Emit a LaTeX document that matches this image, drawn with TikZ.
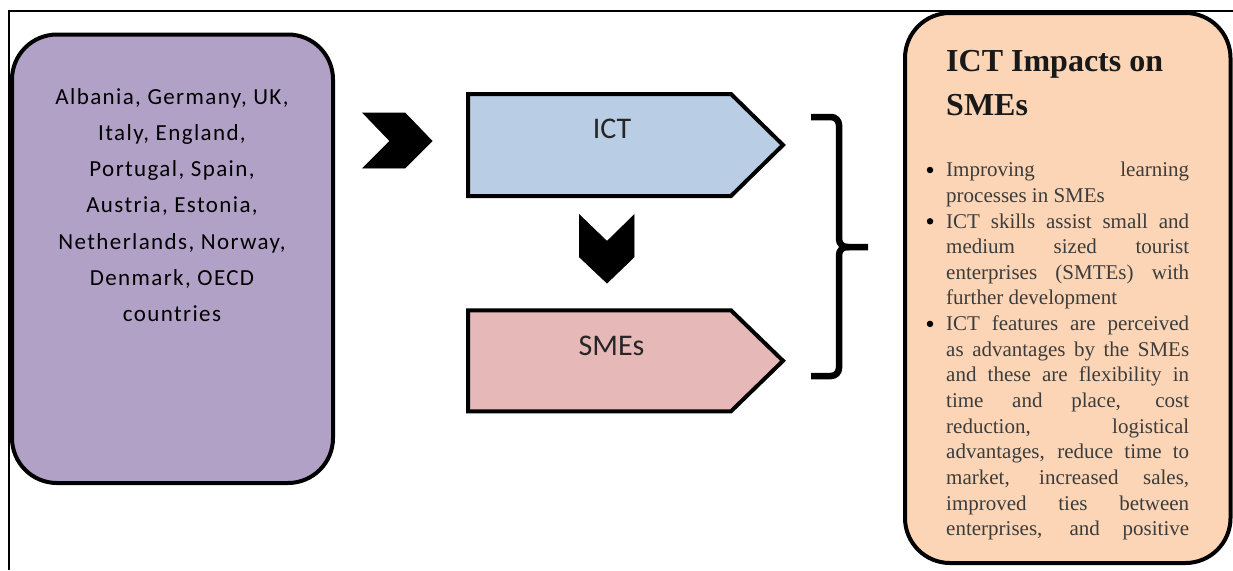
\documentclass[tikz,border=0pt]{standalone}
\usepackage{fontspec}
\setmainfont{Liberation Serif}
\newfontfamily\calib{Carlito}
\newfontfamily\calibls[LetterSpace=6]{Carlito}
\definecolor{purplebox}{HTML}{B2A1C7}
\definecolor{peachbox}{HTML}{FBD5B5}
\definecolor{ictblue}{HTML}{B9CDE5}
\definecolor{smepink}{HTML}{E6B9B8}
\definecolor{bodytext}{HTML}{3C3C3C}
\newcommand\jline[1]{\makebox[243pt][s]{#1}}
\begin{document}
\begin{tikzpicture}[x=1pt,y=-1pt,
  roundbox/.style={draw=black, line width=4pt, rounded corners=45pt},
  tagshape/.style={draw=black, line width=4pt, line join=miter},
  chev/.style={fill=black, draw=black, line width=0.8pt, line join=miter},
  bracket/.style={draw=black, line width=6.5pt, rounded corners=8pt},
  leftline/.style={anchor=base, inner sep=0pt, font=\calibls\fontsize{23}{28}\selectfont, text=black},
  tagtext/.style={anchor=base, inner sep=0pt, font=\calib\fontsize{30}{36}\selectfont, text=black!85},
  titletext/.style={anchor=base west, inner sep=0pt, font=\bfseries\fontsize{32}{38}\selectfont, text=black!90},
  bodyline/.style={anchor=base west, inner sep=0pt, font=\fontsize{21}{25}\selectfont, text=bodytext},
  bul/.style={circle, fill=black, inner sep=0pt, minimum size=6.5pt}]

\useasboundingbox (0,0) rectangle (1233,570);
% frame
\draw[line width=1.2pt] (9,570) -- (9,11) -- (1233,11);

% left box
\draw[roundbox, fill=purplebox] (12,34.5) rectangle (333,483);
\foreach \t [count=\i from 0] in {{Albania, Germany, UK,},{Italy, England,},{Portugal, Spain,},{Austria, Estonia,},{Netherlands, Norway,},{Denmark, OECD},{countries}}
  \node[leftline] (c\i) at (172,104+36.3*\i) {\t};

% chevrons
\fill[chev] (363,113) -- (405,113) -- (432,141) -- (405,168) -- (363,168) -- (390,141) -- cycle;
\fill[chev] (579.5,215) -- (607,241.5) -- (634,215) -- (634,257) -- (607,283) -- (579.5,257) -- cycle;

% tags
\draw[tagshape, fill=ictblue] (468,94) -- (731,94) -- (783,145) -- (731,196) -- (468,196) -- cycle;
\node[tagtext] (ict) at (612,138.3) {ICT};
\draw[tagshape, fill=smepink] (468,310.3) -- (731,310.3) -- (783,360.8) -- (731,411.3) -- (468,411.3) -- cycle;
\node[tagtext] (smes) at (611.5,355) {SMEs};

% bracket
\coordinate (brtop) at (811,117);
\coordinate (brbot) at (811,376);
\coordinate (brmid) at (868,247);
\draw[bracket] (brtop) -- (839,117) -- (839,247) -- (brmid);
\draw[bracket] (brbot) -- (839,376) -- (839,247) -- (849,247);

% right box
\draw[roundbox, fill=peachbox] (905,13) rectangle (1230.5,563);
\node[titletext] (title1) at (946,71.7) {ICT Impacts on};
\node[titletext] (title2) at (946,115) {SMEs};

\foreach \t [count=\k from 0] in {
  {\jline{Improving learning}},
  {processes in SMEs},
  {\jline{ICT skills assist small and}},
  {\jline{medium sized tourist}},
  {\jline{enterprises (SMTEs) with}},
  {further development},
  {\jline{ICT features are perceived}},
  {\jline{as advantages by the SMEs}},
  {\jline{and these are flexibility in}},
  {\jline{time and place, cost}},
  {\jline{reduction, logistical}},
  {\jline{advantages, reduce time to}},
  {\jline{market, increased sales,}},
  {\jline{improved ties between}},
  {\jline{enterprises, and positive}}}
  \node[bodyline] (l\k) at (946,176.7+25.65*\k) {\t};

\node[bul] (b1) at (930,170) {};
\node[bul] (b2) at (930,221.3) {};
\node[bul] (b3) at (930,323.9) {};
\end{tikzpicture}
\end{document}
